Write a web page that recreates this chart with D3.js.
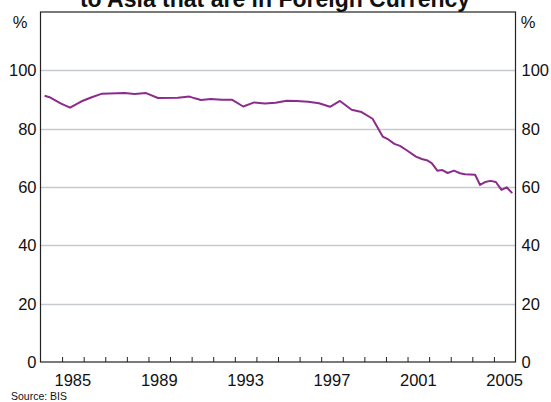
<!DOCTYPE html>
<html><head><meta charset="utf-8">
<script src="https://cdn.jsdelivr.net/npm/d3@7"></script>
<style>
html,body{margin:0;padding:0;background:#fff;}
svg{display:block;font-family:"Liberation Sans",Arial,sans-serif;}
</style></head>
<body><svg id="c" width="551" height="402"></svg>
<script>
const titleText = "to Asia that are in Foreign Currency";
const sourceText = "Source: BIS";
const unitLabel = "%";
const yTicks = [0, 20, 40, 60, 80, 100];
const xTickYears = [1985,1986,1987,1988,1989,1990,1991,1992,1993,1994,1995,1996,1997,1998,1999,2000,2001,2002,2003,2004,2005];
const xLabelYears = [1985, 1989, 1993, 1997, 2001, 2005];
const dates = [1984.19,1984.42,1984.93,1985.37,1985.88,1986.34,1986.85,1987.89,1988.36,1988.89,1989.44,1990.36,1990.90,1991.15,1991.43,1991.89,1992.39,1992.88,1993.39,1993.90,1994.39,1994.89,1995.40,1995.86,1996.40,1996.90,1997.41,1997.87,1998.41,1998.87,1999.38,1999.85,2000.11,2000.39,2000.65,2000.96,2001.39,2001.66,2001.89,2002.12,2002.38,2002.61,2002.86,2003.15,2003.43,2003.66,2004.13,2004.36,2004.59,2004.85,2005.09,2005.35,2005.59,2005.85];
const values = [91.3,90.8,88.7,87.2,89.3,90.7,92.0,92.2,91.9,92.2,90.5,90.6,91.0,90.4,89.8,90.2,89.9,89.9,87.6,89.0,88.6,88.9,89.6,89.5,89.2,88.7,87.5,89.5,86.5,85.7,83.4,77.3,76.3,74.8,74.1,72.6,70.4,69.6,69.2,68.2,65.6,65.8,64.8,65.6,64.7,64.4,64.2,60.7,61.7,62.1,61.7,59.0,59.9,57.9];

const svg = d3.select("#c");
const L = 40.5, R = 515.5, T = 12, B = 362;
const x = d3.scaleLinear().domain([1984, 2006]).range([L, R]);
const y = d3.scaleLinear().domain([0, 120]).range([B, T]);

// gridlines
svg.append("g").selectAll("line").data(yTicks.filter(d => d > 0)).join("line")
  .attr("x1", L).attr("x2", R)
  .attr("y1", d => Math.round(y(d)) + 0.5).attr("y2", d => Math.round(y(d)) + 0.5)
  .attr("stroke", "#c5cacf").attr("stroke-width", 1.3);

// frame
svg.append("rect").attr("x", L).attr("y", T).attr("width", R - L).attr("height", B - T)
  .attr("fill", "none").attr("stroke", "#222").attr("stroke-width", 1.2);

// x ticks
const xAxis = d3.axisBottom(x).tickValues(xTickYears).tickSize(-5).tickFormat("");
const gx = svg.append("g").attr("transform", `translate(0,${B})`).call(xAxis);
gx.select(".domain").remove();
gx.selectAll(".tick line").attr("stroke", "#222").attr("stroke-width", 1);

// x labels centred on mid-year
svg.append("g").selectAll("text").data(xLabelYears).join("text")
  .attr("x", d => x(d + 0.5)).attr("y", 386)
  .attr("text-anchor", "middle").attr("font-size", 16.5).attr("fill", "#111")
  .text(d => d);

// y labels left and right
const yl = svg.append("g");
yl.selectAll("text.l").data(yTicks).join("text").attr("class", "l")
  .attr("x", L - 4).attr("y", d => y(d)).attr("dy", "0.36em")
  .attr("text-anchor", "end").attr("font-size", 16.5).attr("fill", "#111").text(d => d);
yl.selectAll("text.r").data(yTicks).join("text").attr("class", "r")
  .attr("x", R + 6).attr("y", d => y(d)).attr("dy", "0.36em")
  .attr("text-anchor", "start").attr("font-size", 16.5).attr("fill", "#111").text(d => d);

svg.append("text").attr("x", 20).attr("y", 28).attr("text-anchor", "middle")
  .attr("font-size", 16.5).attr("fill", "#111").text(unitLabel);
svg.append("text").attr("x", 528).attr("y", 28).attr("text-anchor", "middle")
  .attr("font-size", 16.5).attr("fill", "#111").text(unitLabel);

// line
const pts = dates.map((d, i) => [d, values[i]]);
svg.append("path").datum(pts)
  .attr("fill", "none").attr("stroke", "#8b2c8c").attr("stroke-width", 2)
  .attr("stroke-linejoin", "round")
  .attr("d", d3.line().x(d => x(d[0])).y(d => y(d[1])));

// title (top line cut off)
svg.append("text").attr("x", 275).attr("y", 7).attr("text-anchor", "middle")
  .attr("font-size", 23).attr("font-weight", "bold").attr("fill", "#111").text(titleText);

svg.append("text").attr("x", 11).attr("y", 400).attr("font-size", 10.5).attr("fill", "#111").text(sourceText);
</script></body></html>
